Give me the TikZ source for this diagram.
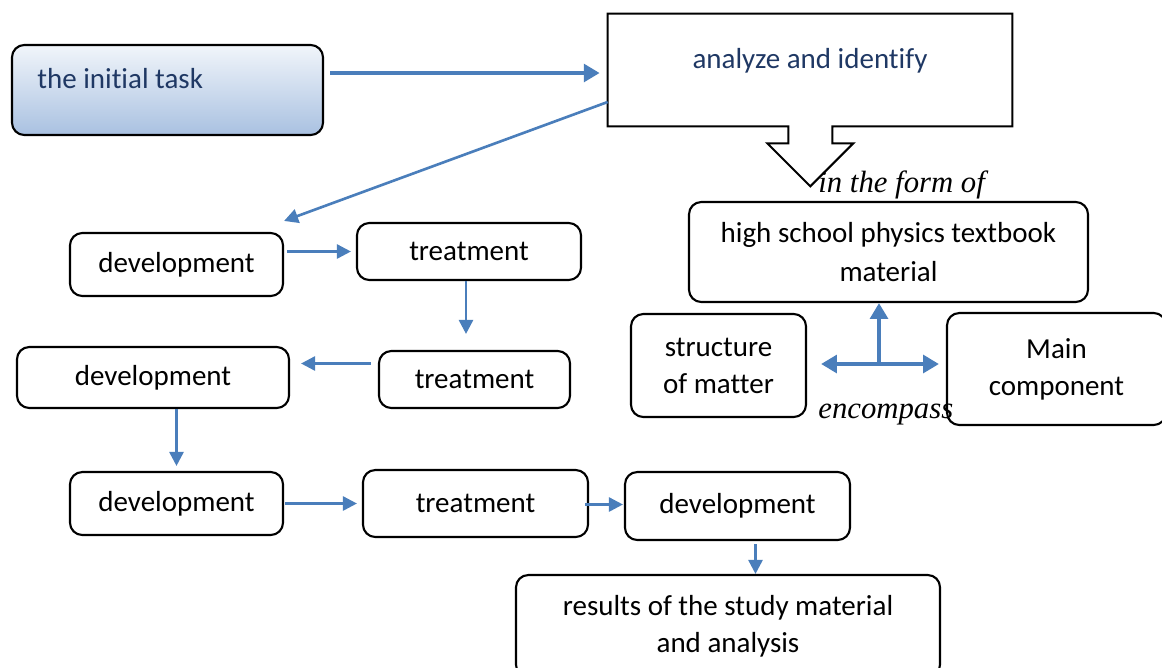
\documentclass[tikz,border=0pt]{standalone}
\usepackage{fontspec}
\setmainfont{Carlito}[Ligatures=NoCommon]
\newfontfamily\labelfont{Liberation Serif}
\usetikzlibrary{arrows.meta}
\newlength{\unitpx}
\setlength{\unitpx}{0.02cm}
\definecolor{flowblue}{HTML}{4A7EBB}
\definecolor{navytext}{HTML}{1F3864}
\definecolor{shadetop}{HTML}{F1F5FA}
\definecolor{shadebottom}{HTML}{A9C1E1}
\begin{document}
\begin{tikzpicture}[x=\unitpx,y=-\unitpx,
  every node/.style={inner sep=0pt,font=\fontsize{16.5}{21}\selectfont,align=center},
  stagebox/.style={draw,line width=1.2pt,rounded corners=7pt},
  flowarrow/.style={draw=flowblue,line width=1.5pt,-{Triangle[length=8pt,width=8pt]}},
  bigarrow/.style={draw=flowblue,line width=2.8pt,-{Triangle[length=9pt,width=10pt]}},
  wordlabel/.style={font=\labelfont\itshape\fontsize{17.5}{20}\selectfont,anchor=base west}
  ]
  \useasboundingbox (0,0) rectangle (1162,667);

  % top row
  \node[stagebox,top color=shadetop,bottom color=shadebottom,minimum width=311\unitpx,minimum height=90\unitpx] (init) at (167.5,90) {};
  \node[text=navytext,anchor=west] (inittext) at (37,79) {the initial task};
  \node[minimum width=404\unitpx,minimum height=112\unitpx] (analyze) at (810,70) {};
  \node[text=navytext] (analyzetext) at (810,61) {analyze and identify};
  \draw[line width=1.2pt] (analyze.south west) -- (analyze.north west) -- (analyze.north east)
    -- (analyze.south east) -- ++(-180,0) -- ++(0,17) -- ++(21,0) -- ++(-43,43)
    -- ++(-43,-43) -- ++(21,0) -- ++(0,-17) -- cycle;
  \node[wordlabel] (formof) at (818,192) {in the form of};

  % physics material
  \node[stagebox,minimum width=399\unitpx,minimum height=100\unitpx] (physics) at (888.5,252) {high school physics textbook\\[1pt] material};
  \node[stagebox,minimum width=175\unitpx,minimum height=103\unitpx] (structure) at (718.5,365.5) {structure\\ of matter};
  \node[stagebox,minimum width=219\unitpx,minimum height=112\unitpx] (mainc) at (1056.5,369) {Main\\ component};
  \node[wordlabel] (encompass) at (818,418) {encompass};
  \coordinate (hub) at (879,364);

  % development chain
  \node[stagebox,minimum width=213\unitpx,minimum height=63\unitpx] (dev1) at (176.5,264.5) {development};
  \node[stagebox,minimum width=224\unitpx,minimum height=57\unitpx] (treat1) at (469,251.5) {treatment};
  \node[stagebox,minimum width=191\unitpx,minimum height=57\unitpx] (treat2) at (474.5,379.5) {treatment};
  \node[stagebox,minimum width=272\unitpx,minimum height=61\unitpx] (dev2) at (153,377.5) {development};
  \node[stagebox,minimum width=213\unitpx,minimum height=63\unitpx] (dev3) at (176.5,503.5) {development};
  \node[stagebox,minimum width=225\unitpx,minimum height=67\unitpx] (treat3) at (475.5,503.5) {treatment};
  \node[stagebox,minimum width=225\unitpx,minimum height=68\unitpx] (dev4) at (737.5,506) {development};
  \node[stagebox,minimum width=424\unitpx,minimum height=102\unitpx] (results) at (728,626) {results of the study material\\ and analysis};

  % connectors
  \draw[bigarrow,shorten <=6\unitpx,shorten >=8\unitpx] ([yshift=17\unitpx]init.east) -- ([yshift=17\unitpx]init.east -| analyze.west);
  \draw[flowarrow] ([yshift=-32\unitpx]analyze.west) -- ([yshift=11\unitpx]dev1.north east);
  \draw[flowarrow,shorten <=3\unitpx,shorten >=5\unitpx] (dev1.east |- treat1.west) -- (treat1.west);
  \draw[flowarrow,shorten >=16\unitpx] ([xshift=-3\unitpx]treat1.south) -- ([xshift=-3\unitpx]treat1.south |- treat2.north);
  \draw[flowarrow,shorten <=7\unitpx,shorten >=11\unitpx] ([yshift=16\unitpx]treat2.west) -- ([yshift=16\unitpx]treat2.west -| dev2.east);
  \draw[flowarrow,shorten >=5\unitpx] (dev3.north |- dev2.south) -- (dev3.north);
  \draw[flowarrow,shorten <=1\unitpx,shorten >=5\unitpx] (dev3.east) -- (treat3.west);
  \draw[flowarrow,shorten <=-4\unitpx,shorten >=1\unitpx] ([yshift=-1\unitpx]treat3.east) -- ([yshift=-1\unitpx]treat3.east -| dev4.west);
  \draw[flowarrow,shorten <=3\unitpx] ([xshift=18\unitpx]dev4.south) -- ([xshift=18\unitpx]dev4.south |- results.north);
  \draw[bigarrow] (hub) -- (hub |- physics.south);
  \draw[bigarrow,{Triangle[length=9pt,width=10pt]}-{Triangle[length=9pt,width=10pt]},shorten <=14\unitpx,shorten >=7\unitpx] (structure.east |- hub) -- (mainc.west |- hub);
\end{tikzpicture}
\end{document}
